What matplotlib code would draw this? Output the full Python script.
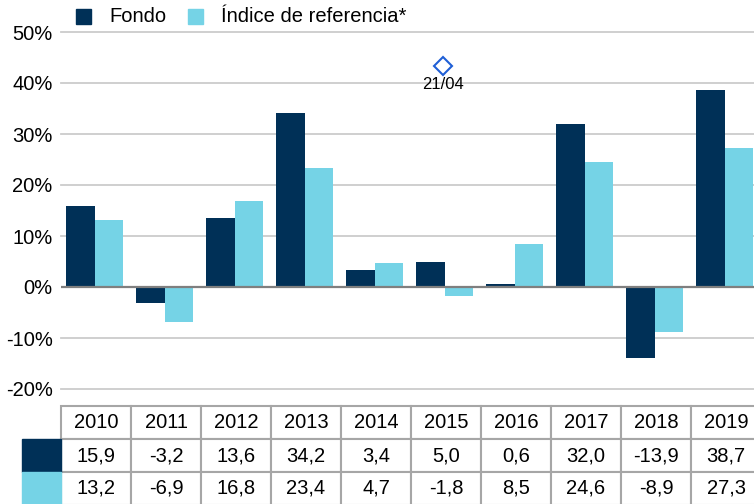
import numpy as np
import matplotlib.pyplot as plt
from matplotlib.patches import Rectangle

plt.rcParams['font.family'] = ['Liberation Sans', 'DejaVu Sans']

# datos
years = ['2010', '2011', '2012', '2013', '2014', '2015', '2016', '2017', '2018', '2019']
fondo = [15.9, -3.2, 13.6, 34.2, 3.4, 5.0, 0.6, 32.0, -13.9, 38.7]
indice = [13.2, -6.9, 16.8, 23.4, 4.7, -1.8, 8.5, 24.6, -8.9, 27.3]
series_names = ['Fondo', 'Índice de referencia*']
marker_label = '21/04'
marker_x = 4.95
marker_y = 43.3
yticks = [-20, -10, 0, 10, 20, 30, 40, 50]

DARK = '#003057'
LIGHT = '#75d3e6'
W, H = 754, 504
FS = 14.5

fig = plt.figure(figsize=(W / 100, H / 100), dpi=100)

# eje principal
ax = fig.add_axes([61 / W, (H - 389) / H, 700 / W, 357 / H])
x = np.arange(len(years))
bw = 0.41
ax.bar(x - bw / 2 - 0.02, fondo, bw, color=DARK, zorder=3)
ax.bar(x + bw / 2 - 0.02, indice, bw, color=LIGHT, zorder=3)
ax.set_xlim(-0.5, len(years) - 0.5)
ax.set_ylim(-20, 50)
ax.set_yticks(yticks)
ax.set_yticklabels([f'{t}%' for t in yticks], fontsize=FS)
ax.tick_params(axis='y', length=0, pad=6)
ax.set_xticks([])
for t in yticks:
    if t == 0:
        continue
    ax.axhline(t, color='#cccccc', lw=1.3, zorder=1, clip_on=False)
ax.axhline(0, color='#7f7f7f', lw=1.6, zorder=4)
for s in ax.spines.values():
    s.set_visible(False)

# marcador
ax.plot([marker_x], [marker_y], marker='D', ms=9.5, mfc='white', mec='#1f5fd6',
        mew=1.5, zorder=5, clip_on=False)
ax.annotate(marker_label, (marker_x, marker_y), xytext=(0, -13), textcoords='offset points',
            ha='center', va='center', fontsize=12)

# leyenda
fig.add_artist(Rectangle((76 / W, 1 - 24 / H), 15 / W, 15 / H, color=DARK,
                         transform=fig.transFigure))
fig.text(109 / W, 1 - 16 / H, series_names[0], fontsize=FS, va='center')
fig.add_artist(Rectangle((188 / W, 1 - 24 / H), 15 / W, 15 / H, color=LIGHT,
                         transform=fig.transFigure))
fig.text(221 / W, 1 - 16 / H, series_names[1], fontsize=FS, va='center')

# tabla
tax = fig.add_axes([61 / W, (H - 538) / H, 700 / W, 132 / H])
tax.set_xlim(-0.5, len(years) - 0.5)
tax.set_ylim(4, 0)
tax.axis('off')
rows = [years,
        [f'{v:.1f}'.replace('.', ',') for v in fondo],
        [f'{v:.1f}'.replace('.', ',') for v in indice]]
grid_c = '#a6a6a6'
for r, vals in enumerate(rows):
    for c, txt in enumerate(vals):
        tax.add_patch(Rectangle((c - 0.5, r), 1, 1, fc='white', ec=grid_c, lw=1.5,
                                clip_on=False))
        tax.text(c, r + 0.5, txt, ha='center', va='center', fontsize=FS)
cw = 39 / 70
tax.add_patch(Rectangle((-0.5 - cw, 1), cw, 1, color=DARK, clip_on=False))
tax.add_patch(Rectangle((-0.5 - cw, 2), cw, 1, color=LIGHT, clip_on=False))

fig.savefig('out.png', dpi=100)
